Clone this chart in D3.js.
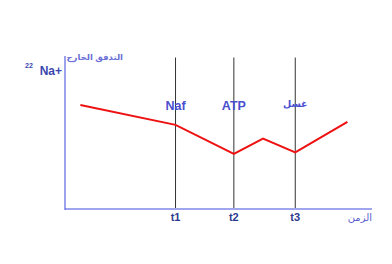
<!DOCTYPE html>
<html>
<head>
<meta charset="utf-8">
<script src="https://cdn.jsdelivr.net/npm/d3@7"></script>
<style>
  body { margin: 0; background: #fff; }
  text { font-family: "Liberation Sans", "DejaVu Sans", sans-serif; }
</style>
</head>
<body>
<div id="chart"></div>
<script>
const dims = { width: 392, height: 264 };

// data
const times = [5, 36, 55, 64.5, 75, 92];
const flux = [68, 55, 36, 46, 37, 57];
const markTimes = [36, 55, 75];
const markTicks = ['t1', 't2', 't3'];
const markLabels = ['Naf', 'ATP', 'غسل'];

const svg = d3.select('#chart')
    .append('svg')
    .attr('width', dims.width)
    .attr('height', dims.height);

const x = d3.scaleLinear().domain([0, 100]).range([65, 372]);
const y = d3.scaleLinear().domain([0, 100]).range([209, 56]);

// marker lines
svg.selectAll('.mark')
    .data(markTimes)
    .enter()
    .append('line')
    .attr('x1', d => x(d)).attr('x2', d => x(d))
    .attr('y1', y(99)).attr('y2', y(0))
    .attr('stroke', '#333')
    .attr('stroke-width', 1);

// axes
svg.append('line')
    .attr('x1', x(0)).attr('x2', x(100))
    .attr('y1', y(0)).attr('y2', y(0))
    .attr('stroke', '#a0a6ee')
    .attr('stroke-width', 2);

svg.append('line')
    .attr('x1', x(0)).attr('x2', x(0))
    .attr('y1', y(100)).attr('y2', y(0) + 1)
    .attr('stroke', '#5a66e0')
    .attr('stroke-width', 1.2);

// tick labels
svg.selectAll('.tick')
    .data(markTimes)
    .enter()
    .append('text')
    .attr('x', d => x(d))
    .attr('y', 221)
    .attr('text-anchor', 'middle')
    .attr('font-size', 11)
    .attr('font-weight', 'bold')
    .attr('fill', '#2b3a8f')
    .text((d, i) => markTicks[i]);

// event labels
svg.selectAll('.evt')
    .data(markTimes)
    .enter()
    .append('text')
    .attr('x', d => x(d))
    .attr('y', (d, i) => i === 2 ? 107 : 110)
    .attr('text-anchor', 'middle')
    .attr('font-size', (d, i) => i === 2 ? 9.5 : 12.5)
    .attr('font-weight', 'bold')
    .attr('fill', '#4a4fcf')
    .text((d, i) => markLabels[i]);

// red flux line
const line = d3.line()
    .x((d, i) => x(times[i]))
    .y(d => y(d));

svg.append('path')
    .datum(flux)
    .attr('d', line)
    .attr('fill', 'none')
    .attr('stroke', '#ee1111')
    .attr('stroke-width', 2);

// axis titles
svg.append('text')
    .attr('x', 372).attr('y', 221)
    .attr('text-anchor', 'end')
    .attr('font-size', 10)
    .attr('fill', '#5a5fd0')
    .text('الزمن');

svg.append('text')
    .attr('x', 123).attr('y', 60)
    .attr('text-anchor', 'end')
    .attr('font-size', 8.5)
    .attr('font-weight', 'bold')
    .attr('fill', '#6a6fd6')
    .text('التدفق الخارج');

svg.append('text')
    .attr('x', 25).attr('y', 68)
    .attr('font-size', 7)
    .attr('font-weight', 'bold')
    .attr('fill', '#3a46b0')
    .text('22');

svg.append('text')
    .attr('x', 62).attr('y', 75)
    .attr('text-anchor', 'end')
    .attr('font-size', 12)
    .attr('font-weight', 'bold')
    .attr('fill', '#3a46b0')
    .text('Na+');
</script>
</body>
</html>
